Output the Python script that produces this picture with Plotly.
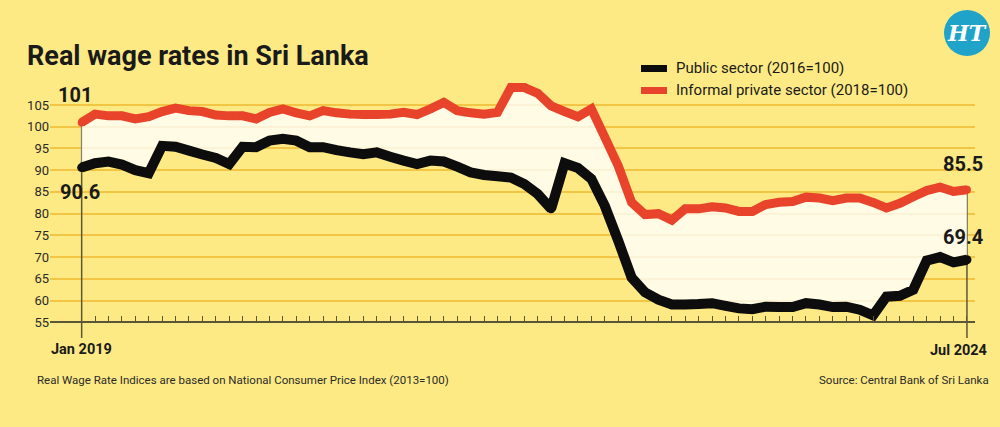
import plotly.graph_objects as go

# ---------------- data ----------------
month_names = ["Jan", "Feb", "Mar", "Apr", "May", "Jun", "Jul", "Aug", "Sep", "Oct", "Nov", "Dec"]
months = [f"{m} {y}" for y in range(2019, 2025) for m in month_names][:67]  # Jan 2019 .. Jul 2024

public_sector = [
    90.6, 91.6, 92.0, 91.3, 90.0, 89.3, 95.6, 95.4, 94.5, 93.6, 92.8, 91.4,   # 2019
    95.4, 95.3, 96.8, 97.2, 96.8, 95.3, 95.3, 94.6, 94.1, 93.7, 94.1, 93.1,   # 2020
    92.2, 91.4, 92.2, 92.0, 90.8, 89.5, 88.9, 88.6, 88.3, 86.8, 84.5, 81.1,   # 2021
    91.6, 90.5, 88.0, 81.8, 73.8, 65.3, 61.9, 60.2, 59.1, 59.1, 59.2, 59.4,   # 2022
    58.8, 58.2, 58.0, 58.6, 58.5, 58.5, 59.4, 59.1, 58.5, 58.6, 57.9, 56.6,   # 2023
    60.9, 61.1, 62.5, 69.2, 70.0, 68.8, 69.4,                                 # 2024
]
informal_private = [
    101.0, 102.9, 102.5, 102.5, 101.8, 102.3, 103.5, 104.3, 103.7, 103.5, 102.7, 102.5,  # 2019
    102.5, 101.8, 103.3, 104.1, 103.2, 102.5, 103.7, 103.2, 102.9, 102.8, 102.8, 102.9,  # 2020
    103.3, 102.8, 104.1, 105.6, 103.7, 103.2, 102.9, 103.3, 109.0, 109.0, 107.7, 104.8,  # 2021
    103.5, 102.3, 104.1, 97.6, 91.0, 82.6, 79.8, 80.0, 78.5, 81.1, 81.1, 81.6,           # 2022
    81.3, 80.5, 80.5, 82.1, 82.6, 82.8, 83.8, 83.6, 83.0, 83.6, 83.6, 82.6,              # 2023
    81.3, 82.4, 83.9, 85.3, 86.1, 85.1, 85.5,                                             # 2024
]
y_ticks = [55, 60, 65, 70, 75, 80, 85, 90, 95, 100, 105]

# ---------------- style ----------------
BG = "#FEEA84"
RED = "#E8432B"
BLACK = "#0d0d0d"
GRID = "#F2C544"
AXIS = "#5a5636"
FILL = "rgba(255,255,255,0.78)"
FONT = "Roboto, Liberation Sans, sans-serif"
TXT = "#1a1a1a"

L, R, T, B = 50, 25, 75, 89
W, H = 1000, 427
PW, PH = W - L - R, H - T - B
Y_MIN = 55 - (338 - 322.3) / 4.346
Y_MAX = 55 + (322.3 - T) / 4.346
X_RANGE = [-2.36, 66.6]


def px(X):
    return (X - L) / PW


def py(Y):
    return (H - B - Y) / PH


fig = go.Figure()

# vertical guide lines at first/last month
for idx in (0, len(months) - 1):
    fig.add_trace(go.Scatter(
        x=[months[idx], months[idx]], y=[informal_private[idx], Y_MIN],
        mode="lines", line=dict(color=AXIS, width=1.5),
        hoverinfo="skip", showlegend=False))

fig.add_trace(go.Scatter(
    x=months, y=public_sector, mode="lines+markers", name="Public sector (2016=100)",
    line=dict(color=BLACK, width=10, simplify=False),
    marker=dict(color=BLACK, size=9, line=dict(width=0)),
    showlegend=False))
fig.add_trace(go.Scatter(
    x=months, y=informal_private, mode="lines+markers", name="Informal private sector (2018=100)",
    line=dict(color=RED, width=9, simplify=False),
    marker=dict(color=RED, size=8, line=dict(width=0)),
    fill="tonexty", fillcolor=FILL, showlegend=False))

annotations = [
    dict(text="<b>Real wage rates in Sri Lanka</b>", x=px(25), y=py(56), xref="paper", yref="paper",
         xanchor="left", yanchor="middle", showarrow=False,
         font=dict(family=FONT, size=27, color=TXT)),
    dict(text="Public sector (2016=100)", x=px(674), y=py(68), xref="paper", yref="paper",
         xanchor="left", yanchor="middle", showarrow=False,
         font=dict(family=FONT, size=15, color=TXT)),
    dict(text="Informal private sector (2018=100)", x=px(674), y=py(90), xref="paper", yref="paper",
         xanchor="left", yanchor="middle", showarrow=False,
         font=dict(family=FONT, size=15, color=TXT)),
    # value labels
    dict(text=f"<b>{informal_private[0]:g}</b>", x=months[0], y=informal_private[0], xref="x", yref="y",
         xshift=-7, yshift=27, showarrow=False, font=dict(family=FONT, size=20, color=TXT)),
    dict(text=f"<b>{public_sector[0]:g}</b>", x=months[0], y=public_sector[0], xref="x", yref="y",
         xshift=-2, yshift=-24, showarrow=False, font=dict(family=FONT, size=20, color=TXT)),
    dict(text=f"<b>{informal_private[-1]:g}</b>", x=months[-1], y=informal_private[-1], xref="x", yref="y",
         xshift=-4, yshift=26, showarrow=False, font=dict(family=FONT, size=20, color=TXT)),
    dict(text=f"<b>{public_sector[-1]:g}</b>", x=months[-1], y=public_sector[-1], xref="x", yref="y",
         xshift=-4, yshift=23, showarrow=False, font=dict(family=FONT, size=20, color=TXT)),
    # end labels
    dict(text=f"<b>{months[0]}</b>", x=months[0], y=py(349), xref="x", yref="paper",
         yanchor="middle", showarrow=False, font=dict(family=FONT, size=14.5, color=TXT)),
    dict(text=f"<b>{months[-1]}</b>", x=months[-1], y=py(350), xref="x", yref="paper", xshift=-8,
         yanchor="middle", showarrow=False, font=dict(family=FONT, size=14.5, color=TXT)),
    # notes
    dict(text="Real Wage Rate Indices are based on National Consumer Price Index (2013=100)",
         x=px(35), y=py(380), xref="paper", yref="paper", xanchor="left", yanchor="middle",
         showarrow=False, font=dict(family=FONT, size=11.5, color="#2a2a2a")),
    dict(text="Source: Central Bank of Sri Lanka", x=px(991), y=py(380), xref="paper", yref="paper",
         xanchor="right", yanchor="middle", showarrow=False,
         font=dict(family=FONT, size=11.5, color="#2a2a2a")),
    # logo text
    dict(text="<b><i>HT</i></b>", x=px(967), y=py(33), xref="paper", yref="paper",
         xanchor="center", yanchor="middle", showarrow=False,
         font=dict(family="DejaVu Serif, serif", size=22, color="white")),
]

shapes = [
    dict(type="line", xref="paper", yref="paper", x0=px(641), x1=px(667), y0=py(68.5), y1=py(68.5),
         line=dict(color=BLACK, width=7)),
    dict(type="line", xref="paper", yref="paper", x0=px(641), x1=px(667), y0=py(90.5), y1=py(90.5),
         line=dict(color=RED, width=7)),
    dict(type="circle", xref="paper", yref="paper", x0=px(944), x1=px(990), y0=py(10), y1=py(56),
         fillcolor="#1FA3C9", line=dict(width=0)),
]

fig.update_layout(
    width=W, height=H,
    margin=dict(l=L, r=R, t=T, b=B, pad=0),
    paper_bgcolor=BG, plot_bgcolor=BG,
    showlegend=False,
    annotations=annotations, shapes=shapes,
    xaxis=dict(
        type="category", categoryorder="array", categoryarray=months,
        range=X_RANGE, anchor="free",
        position=(55 - Y_MIN) / (Y_MAX - Y_MIN),
        showgrid=False, zeroline=False, showline=True, linecolor=AXIS, linewidth=1.5,
        ticks="inside", ticklen=6, tickwidth=1.2, tickcolor=AXIS,
        tickmode="array", tickvals=months, showticklabels=False, fixedrange=True,
    ),
    yaxis=dict(
        range=[Y_MIN, Y_MAX], tickmode="array", tickvals=y_ticks,
        showgrid=True, gridcolor=GRID, gridwidth=1.5, zeroline=False, showline=False,
        ticks="", tickfont=dict(family=FONT, size=13, color="#2a2a2a"), fixedrange=True,
    ),
)

fig.write_html("out.html")
